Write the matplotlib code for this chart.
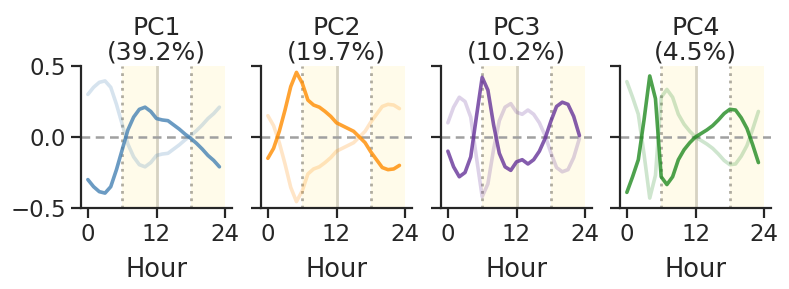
import matplotlib
matplotlib.use("Agg")
import matplotlib.pyplot as plt
import numpy as np

hours = list(range(24))
titles = ["PC1\n(39.2%)", "PC2\n(19.7%)", "PC3\n(10.2%)", "PC4\n(4.5%)"]
pc1 = [-0.30, -0.35, -0.385, -0.395, -0.35, -0.23, -0.09, 0.05, 0.14, 0.195, 0.21, 0.18,
       0.13, 0.12, 0.115, 0.085, 0.055, 0.02, -0.01, -0.045, -0.085, -0.13, -0.165, -0.21]
pc2 = [-0.15, -0.08, 0.04, 0.19, 0.355, 0.455, 0.38, 0.26, 0.225, 0.21, 0.18, 0.145,
       0.10, 0.08, 0.06, 0.04, 0.0, -0.04, -0.105, -0.16, -0.215, -0.23, -0.225, -0.20]
pc3 = [-0.10, -0.21, -0.28, -0.25, -0.14, 0.145, 0.42, 0.33, 0.085, -0.115, -0.21, -0.235,
       -0.175, -0.16, -0.19, -0.16, -0.10, -0.01, 0.11, 0.215, 0.245, 0.23, 0.145, 0.01]
pc4 = [-0.39, -0.28, -0.16, 0.12, 0.43, 0.27, -0.28, -0.335, -0.28, -0.16, -0.09, -0.04,
       0.0, 0.025, 0.05, 0.08, 0.12, 0.165, 0.195, 0.19, 0.135, 0.06, -0.055, -0.18]
series = [pc1, pc2, pc3, pc4]
colors = ["#4682b4", "#ff8c00", "#663399", "#228b22"]
xticks = [0, 12, 24]
yticks = [-0.5, 0.0, 0.5]

W, H = 789, 289
fig = plt.figure(figsize=(W / 100, H / 100), dpi=100)
txt = "#262626"
lefts = [81, 261, 441, 620]
aw, top, bottom = 151, 66, 208

for i, (vals, col, ttl) in enumerate(zip(series, colors, titles)):
    ax = fig.add_axes([lefts[i] / W, 1 - bottom / H, aw / W, (bottom - top) / H])
    ax.axvspan(6, 12, color="#fffbea", zorder=0, lw=0)
    ax.axvspan(18, 24, color="#fffbea", zorder=0, lw=0)
    ax.axvline(6, color="#b0aca0", ls=":", lw=2, zorder=1)
    ax.axvline(18, color="#b0aca0", ls=":", lw=2, zorder=1)
    ax.axvline(12, color="#d6d2c2", ls="-", lw=2, zorder=1)
    ax.axhline(0, color="#a0a0a0", lw=1.8, zorder=1, ls=(0, (3.5, 2.2)))
    ax.plot(hours, [-v for v in vals], color=col, alpha=0.22, lw=2.6, zorder=2,
            solid_capstyle="round")
    ax.plot(hours, vals, color=col, alpha=0.8, lw=2.6, zorder=3, solid_capstyle="round")
    ax.set_xlim(-1.2, 25.2)
    ax.set_ylim(-0.5, 0.5)
    ax.set_xticks(xticks)
    ax.set_yticks(yticks)
    if i == 0:
        ax.set_yticklabels(["\u22120.5", "0.0", "0.5"])
    else:
        ax.set_yticklabels([])
    for s in ["top", "right"]:
        ax.spines[s].set_visible(False)
    for s in ["left", "bottom"]:
        ax.spines[s].set_linewidth(1.6)
        ax.spines[s].set_color(txt)
    ax.tick_params(axis="both", length=7, width=1.6, color=txt, labelcolor=txt,
                   labelsize=16.5, pad=4)
    ax.set_xlabel("Hour", fontsize=18.5, color=txt, labelpad=8)
    ax.set_title(ttl, fontsize=18, color=txt, linespacing=1.0, pad=5)

fig.savefig("out.png", dpi=100)
